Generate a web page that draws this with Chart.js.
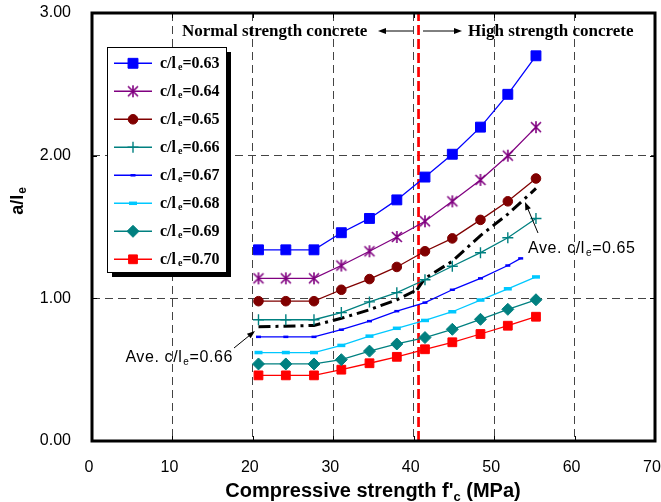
<!DOCTYPE html>
<html>
<head>
<meta charset="utf-8">
<script src="https://cdn.jsdelivr.net/npm/chart.js@4.4.1/dist/chart.umd.min.js"></script>
<style>
  html, body { margin: 0; padding: 0; background: #fff; }
  canvas { display: block; }
</style>
</head>
<body>
<canvas id="chart" width="661" height="502"></canvas>
<script>
// compressive strength f'c (MPa) - 3000 to 8000 psi
const fc = [20.7, 24.1, 27.6, 31.0, 34.5, 37.9, 41.4, 44.8, 48.3, 51.7, 55.2];
const fc067 = [20.7, 24.1, 27.6, 31.0, 34.5, 37.9, 41.4, 44.8, 48.3, 51.7, 53.3];

// a/le for each c/le ratio
const r063 = [1.34, 1.34, 1.34, 1.46, 1.56, 1.69, 1.85, 2.01, 2.20, 2.43, 2.70];
const r064 = [1.14, 1.14, 1.14, 1.23, 1.33, 1.43, 1.54, 1.68, 1.83, 2.00, 2.20];
const r065 = [0.98, 0.98, 0.98, 1.06, 1.135, 1.22, 1.33, 1.42, 1.55, 1.68, 1.84];
const r066 = [0.85, 0.85, 0.85, 0.90, 0.975, 1.04, 1.13, 1.225, 1.32, 1.425, 1.56];
const r067 = [0.73, 0.73, 0.73, 0.78, 0.84, 0.91, 0.97, 1.06, 1.14, 1.23, 1.28];
const r068 = [0.62, 0.62, 0.62, 0.67, 0.735, 0.79, 0.845, 0.906, 0.988, 1.067, 1.15];
const r069 = [0.54, 0.54, 0.54, 0.57, 0.63, 0.68, 0.725, 0.783, 0.853, 0.923, 0.99];
const r070 = [0.46, 0.46, 0.46, 0.50, 0.545, 0.59, 0.643, 0.692, 0.75, 0.808, 0.871];

// average curves
const aveNscX = [20.7, 27.6, 31.0, 34.5, 37.9, 40.4];
const aveNscY = [0.80, 0.81, 0.86, 0.92, 0.99, 1.06];
const aveHscX = [40.4, 41.4, 44.8, 48.3, 51.7, 55.2];
const aveHscY = [1.06, 1.14, 1.26, 1.44, 1.59, 1.77];

// NSC / HSC limit
const limitX = [40.6, 40.6];
const limitY = [0, 3];

const ratioLabels = ['0.63', '0.64', '0.65', '0.66', '0.67', '0.68', '0.69', '0.70'];
const xRange = [0, 70];
const yRange = [0, 3];

const pts = (xs, ys) => xs.map((x, i) => ({ x: x, y: ys[i] }));

// six-arm asterisk like the spreadsheet marker
function starMarker(color) {
    const c = document.createElement('canvas');
    c.width = 14; c.height = 14;
    const g = c.getContext('2d');
    g.strokeStyle = color;
    g.lineWidth = 1.6;
    g.beginPath();
    g.moveTo(2, 2); g.lineTo(12, 12);
    g.moveTo(12, 2); g.lineTo(2, 12);
    g.moveTo(7, 1); g.lineTo(7, 13);
    g.stroke();
    return c;
}

const series = [
    { data: pts(fc, r063), color: '#0000FF', pointStyle: 'rect', radius: 7, bw: 1 },
    { data: pts(fc, r064), color: '#800080', pointStyle: starMarker('#800080'), radius: 7, bw: 1 },
    { data: pts(fc, r065), color: '#800000', pointStyle: 'circle', radius: 4.8, bw: 1 },
    { data: pts(fc, r066), color: '#008080', pointStyle: 'cross', radius: 5.5, bw: 1.4 },
    { data: pts(fc067, r067), color: '#0000FF', pointStyle: 'line', radius: 2.5, bw: 2.5 },
    { data: pts(fc, r068), color: '#00C8FF', pointStyle: 'line', radius: 4, bw: 3.5 },
    { data: pts(fc, r069), color: '#008080', pointStyle: 'rectRot', radius: 6, bw: 1 },
    { data: pts(fc, r070), color: '#FF0000', pointStyle: 'rect', radius: 6.2, bw: 1 }
];

const datasets = series.map((s, i) => ({
    label: 'c/le=' + ratioLabels[i],
    data: s.data,
    showLine: true,
    borderColor: s.color,
    backgroundColor: s.color,
    borderWidth: 1.3,
    pointStyle: s.pointStyle,
    pointRadius: s.radius,
    pointBorderWidth: s.bw,
    pointBackgroundColor: s.color,
    pointBorderColor: s.color,
    tension: 0
}));

datasets.push({
    label: 'Ave. c/le=0.66',
    data: pts(aveNscX, aveNscY),
    showLine: true, borderColor: '#000', borderWidth: 3,
    borderDash: [12, 5, 3, 5], pointRadius: 0, tension: 0
});
datasets.push({
    label: 'Ave. c/le=0.65',
    data: pts(aveHscX, aveHscY),
    showLine: true, borderColor: '#000', borderWidth: 3,
    borderDash: [12, 5, 3, 5], pointRadius: 0, tension: 0
});
datasets.push({
    label: 'limit',
    data: pts(limitX, limitY),
    showLine: true, borderColor: '#FF0000', borderWidth: 2.7,
    borderDash: [10, 4], pointRadius: 0, tension: 0
});

// text made of pieces (for subscripts)
function drawParts(ctx, parts, x, y, align) {
    let w = 0;
    parts.forEach(p => { ctx.font = p.font; w += ctx.measureText(p.text).width + (p.dx || 0); });
    let cx = align === 'center' ? x - w / 2 : (align === 'right' ? x - w : x);
    ctx.textAlign = 'left';
    ctx.textBaseline = 'alphabetic';
    parts.forEach(p => {
        ctx.font = p.font;
        cx += (p.dx || 0);
        ctx.fillText(p.text, cx, y + (p.dy || 0));
        cx += ctx.measureText(p.text).width;
    });
}

function arrow(ctx, x1, y1, x2, y2) {
    const a = Math.atan2(y2 - y1, x2 - x1);
    ctx.beginPath();
    ctx.moveTo(x1, y1);
    ctx.lineTo(x2 - 6 * Math.cos(a), y2 - 6 * Math.sin(a));
    ctx.stroke();
    ctx.beginPath();
    ctx.moveTo(x2, y2);
    ctx.lineTo(x2 - 8 * Math.cos(a) + 3 * Math.sin(a), y2 - 8 * Math.sin(a) - 3 * Math.cos(a));
    ctx.lineTo(x2 - 8 * Math.cos(a) - 3 * Math.sin(a), y2 - 8 * Math.sin(a) + 3 * Math.cos(a));
    ctx.closePath();
    ctx.fill();
}

const serif = 'bold 16px "Liberation Serif"';
const serifBig = 'bold 17px "Liberation Serif"';
const serifSub = 'bold 10px "Liberation Serif"';
const sans = '16px "Liberation Sans"';
const sansSub = '10px "Liberation Sans"';

const decorPlugin = {
    id: 'decor',
    afterDatasetsDraw(chart) {
        const ctx = chart.ctx;
        const a = chart.chartArea;
        const xs = chart.scales.x, ys = chart.scales.y;
        ctx.save();

        // inner tick marks
        ctx.strokeStyle = '#000';
        ctx.lineWidth = 1;
        ctx.beginPath();
        xs.ticks.forEach(t => {
            const px = Math.round(xs.getPixelForValue(t.value)) + 0.5;
            ctx.moveTo(px, a.bottom); ctx.lineTo(px, a.bottom - 5);
            ctx.moveTo(px, a.top); ctx.lineTo(px, a.top + 5);
        });
        ys.ticks.forEach(t => {
            const py = Math.round(ys.getPixelForValue(t.value)) + 0.5;
            ctx.moveTo(a.left, py); ctx.lineTo(a.left + 5, py);
            ctx.moveTo(a.right, py); ctx.lineTo(a.right - 5, py);
        });
        ctx.stroke();

        // frame
        ctx.lineWidth = 3;
        ctx.strokeRect(a.left, a.top, a.right - a.left, a.bottom - a.top);

        // NSC / HSC labels
        ctx.fillStyle = '#000';
        ctx.lineWidth = 1;
        drawParts(ctx, [{ text: 'Normal strength concrete', font: serifBig }], 182, 36, 'left');
        drawParts(ctx, [{ text: 'High strength concrete', font: serifBig }], 468, 36, 'left');
        arrow(ctx, 413, 31, 378, 31);
        arrow(ctx, 423, 31, 462, 31);

        // average curve notes
        ctx.letterSpacing = '0.6px';
        drawParts(ctx, [
            { text: 'Ave. c/l', font: sans },
            { text: 'e', font: sansSub, dy: 3, dx: 1 },
            { text: '=0.66', font: sans }
        ], 233, 362, 'right');
        drawParts(ctx, [
            { text: 'Ave. c/l', font: sans },
            { text: 'e', font: sansSub, dy: 3, dx: 1 },
            { text: '=0.65', font: sans }
        ], 528, 253, 'left');
        ctx.letterSpacing = '0px';
        arrow(ctx, 234, 348, 255, 331);
        arrow(ctx, 538, 233, 525, 202);

        // legend box with shadow
        const lx = 107, ly = 47, lw = 119, lh = 225;
        ctx.fillStyle = '#000';
        ctx.fillRect(lx + 5, ly + 5, lw, lh);
        ctx.fillStyle = '#fff';
        ctx.fillRect(lx, ly, lw, lh);
        ctx.strokeStyle = '#000';
        ctx.lineWidth = 1;
        ctx.strokeRect(lx + 0.5, ly + 0.5, lw, lh);

        series.forEach((s, i) => {
            const y = 63.3 + i * 28;
            ctx.strokeStyle = s.color;
            ctx.fillStyle = s.color;
            ctx.lineWidth = 1.5;
            ctx.beginPath();
            ctx.moveTo(114, y); ctx.lineTo(152, y);
            ctx.stroke();
            ctx.lineWidth = s.bw;
            Chart.helpers.drawPoint(ctx, {
                pointStyle: s.pointStyle, radius: s.radius, borderWidth: s.bw, rotation: 0
            }, 133, y);
            ctx.fillStyle = '#000';
            drawParts(ctx, [
                { text: 'c/l', font: serif },
                { text: 'e', font: serifSub, dy: 2, dx: 2 },
                { text: '=' + ratioLabels[i], font: serif }
            ], 160, y + 5, 'left');
        });
        ctx.restore();
    },
    afterDraw(chart) {
        const ctx = chart.ctx;
        ctx.save();
        ctx.fillStyle = '#000';
        // x title
        drawParts(ctx, [
            { text: "Compressive strength f'", font: 'bold 20px "Liberation Sans"' },
            { text: 'c', font: 'bold 13px "Liberation Sans"', dy: 4 },
            { text: ' (MPa)', font: 'bold 20px "Liberation Sans"' }
        ], 373, 497, 'center');
        // y title
        ctx.translate(23, 201);
        ctx.rotate(-Math.PI / 2);
        drawParts(ctx, [
            { text: 'a/l', font: 'bold 18px "Liberation Sans"' },
            { text: 'e', font: 'bold 12px "Liberation Sans"', dy: 3, dx: 1 }
        ], 0, 0, 'center');
        ctx.restore();
    }
};

// keep the plot box fixed: no extra room for edge labels
function fixBox(s, size) {
    if (s.isHorizontal()) s.height = size; else s.width = size;
    s.paddingLeft = 0; s.paddingRight = 0;
    s.paddingTop = 0; s.paddingBottom = 0;
}

Chart.defaults.font.family = '"Liberation Sans", Arial, sans-serif';
Chart.defaults.font.size = 16;
Chart.defaults.color = '#000';

new Chart(document.getElementById('chart'), {
    type: 'scatter',
    data: { datasets: datasets },
    options: {
        responsive: false,
        animation: false,
        devicePixelRatio: 1,
        layout: { autoPadding: false, padding: { top: 13, right: 6, left: 0, bottom: 0 } },
        plugins: { legend: { display: false }, tooltip: { enabled: false } },
        scales: {
            x: {
                min: xRange[0], max: xRange[1],
                ticks: { stepSize: 10, padding: 17, labelOffset: -3, font: { size: 16 } },
                grid: {
                    drawTicks: false, lineWidth: 1,
                    color: ctx => (ctx.tick && (ctx.tick.value === xRange[0] || ctx.tick.value === xRange[1])) ? 'rgba(0,0,0,0)' : '#444'
                },
                border: { display: false, dash: [8, 5] },
                afterFit: s => fixBox(s, 61)
            },
            y: {
                min: yRange[0], max: yRange[1],
                ticks: { stepSize: 1, padding: 21, callback: v => v.toFixed(2), font: { size: 16 } },
                grid: {
                    drawTicks: false, lineWidth: 1,
                    color: ctx => (ctx.tick && (ctx.tick.value === yRange[0] || ctx.tick.value === yRange[1])) ? 'rgba(0,0,0,0)' : '#444'
                },
                border: { display: false, dash: [8, 5] },
                afterFit: s => fixBox(s, 92)
            }
        }
    },
    plugins: [decorPlugin]
});
</script>
</body>
</html>
